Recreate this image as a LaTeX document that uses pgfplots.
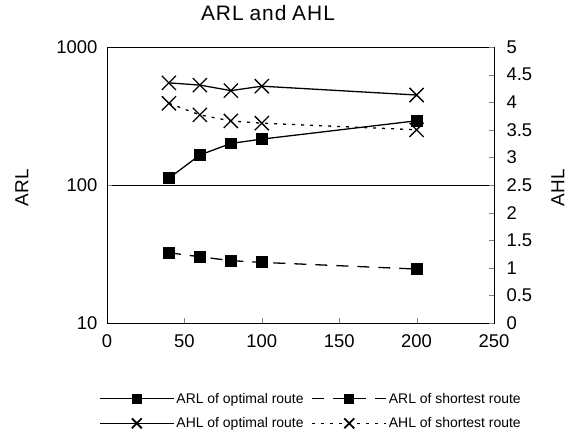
\documentclass[border=0pt]{standalone}
\usepackage{pgfplots}
\pgfplotsset{compat=1.18}
\usepackage{fontspec}
\setmainfont{Liberation Sans}
\begin{document}
\begin{tikzpicture}[x=1bp,y=1bp]
\useasboundingbox (0,0) rectangle (569,432);
\pgfplotsset{
  every axis/.append style={
    /pgf/number format/assume math mode=true,
    scale only axis, width=387bp, height=276bp,
    at={(107bp,109bp)}, anchor=south west,
    xmin=0, xmax=250,
    tick label style={font=\fontsize{18.5}{20}\selectfont},
    label style={font=\fontsize{19}{21}\selectfont},
    axis line style={line width=0.8pt},
    major tick length=5bp,
  },
  arlopt/.style={black, line width=1.3pt, mark=square*, mark size=5.3bp, mark options={solid}},
  arlsh/.style={black, line width=1.3pt, dash pattern=on 12bp off 9bp, mark=square*, mark size=5.3bp, mark options={solid}},
  ahlopt/.style={black, line width=1.3pt, mark=x, mark size=10bp, mark options={solid, line width=1.3pt}},
  ahlsh/.style={black, line width=1.3pt, dash pattern=on 3bp off 6bp, mark=x, mark size=10bp, mark options={solid, line width=1.3pt}},
}
\begin{axis}[
  ymode=log, ymin=10, ymax=1000,
  ytick={10,100,1000}, yticklabels={10,100,1000},
  yminorticks=false,
  xtick={0,50,100,150,200,250},
  xtick pos=bottom, ytick pos=left,
  ymajorgrids, grid style={black, line width=0.6pt},
  ylabel={ARL},
  ylabel style={at={(axis description cs:-0.22,0.49)}, anchor=center},
  xticklabel style={yshift=-8bp},
  yticklabel style={xshift=-6bp},
  title={A\kern1bp R\kern1bp L a\kern1bp n\kern1bp d A\kern1bp H\kern1bp L},
  title style={at={(axis description cs:0.416,1.100)}, anchor=center, font=\fontsize{21}{23}\selectfont},
]
\addplot[arlopt] coordinates {(40,112) (60,165) (80,200) (100,215) (200,292)};
\addplot[arlsh] coordinates {(40,32.3) (60,30.2) (80,28.3) (100,27.5) (200,24.6)};
\end{axis}
\begin{axis}[
  axis x line=none, axis y line*=right,
  ymin=0, ymax=5, ytick={0,0.5,...,5},
  yticklabel style={/pgf/number format/.cd, fixed, precision=1, /tikz/.cd, xshift=9bp},
  ylabel={AHL},
  ylabel style={at={(axis description cs:1.165,0.49)}, anchor=center},
  legend columns=2,
  legend style={draw=none, at={(axis description cs:0.527,-0.319)}, anchor=center,
    font=\fontsize{14}{16}\selectfont, row sep=9bp,
    /tikz/every even column/.append style={column sep=6bp}},
  legend cell align=left,
  legend image code/.code={\draw[mark repeat=2, mark phase=2, #1] plot coordinates {(0bp,0bp) (37bp,0bp) (74bp,0bp)};},
]
\addlegendimage{arlopt, mark size=4.5bp}\addlegendentry{ARL of optimal route}
\addlegendimage{arlsh, mark size=4.5bp}\addlegendentry{ARL of shortest route}
\addlegendimage{ahlopt, mark size=7bp, mark options={solid, line width=1.8pt}}\addlegendentry{AHL of optimal route}
\addlegendimage{ahlsh, mark size=7bp, mark options={solid, line width=1.8pt}}\addlegendentry{AHL of shortest route}
\addplot[ahlopt, forget plot] coordinates {(40,4.35) (60,4.31) (80,4.21) (100,4.29) (200,4.13)};
\addplot[ahlsh, forget plot] coordinates {(40,3.98) (60,3.77) (80,3.66) (100,3.62) (200,3.50)};
\end{axis}
\end{tikzpicture}
\end{document}
